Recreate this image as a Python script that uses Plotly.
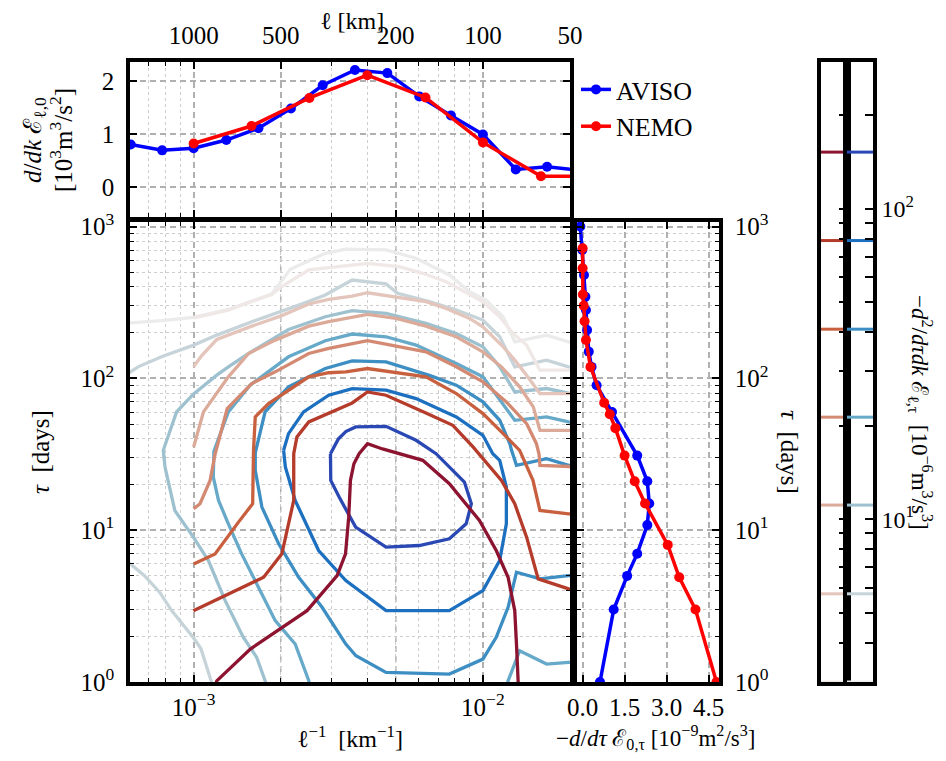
import numpy as np
import plotly.graph_objects as go

# The page body keeps its default 8px margin, so the figure is sized to fill the 946x761 window exactly.
VIEW_W, VIEW_H, BODY = 946, 761, 8
W, H = VIEW_W - 2 * BODY, VIEW_H - 2 * BODY
FONT = "Liberation Serif"

# ---------------- Top panel: spectrum vs scale ----------------
AVISO_L_KM = [1650, 1285, 1000, 771, 597, 461, 358, 277, 214, 166, 129, 100, 77, 60, 46]
AVISO_SPEC = [0.80, 0.69, 0.73, 0.885, 1.11, 1.48, 1.92, 2.21, 2.15, 1.71, 1.35, 0.99, 0.33, 0.38, 0.31]
NEMO_L_KM = [1000, 631, 398, 251, 158, 100, 63, 40]
NEMO_SPEC = [0.82, 1.15, 1.68, 2.11, 1.69, 0.84, 0.20, 0.20]

# ---------------- Right panel: flux vs time scale ----------------
AVISO_TAU = [1000, 700, 480, 345, 282, 208, 150, 119, 90, 60, 31, 21, 15, 10.8, 7, 5, 3, 1]
AVISO_FLUX = [-0.08, -0.01, 0.05, 0.10, 0.12, 0.16, 0.22, 0.32, 0.50, 1.05, 1.95, 2.31, 2.38, 2.31, 1.95, 1.59, 1.11, 0.62]
NEMO_TAU = [720, 531, 357, 301, 238, 179, 119, 69, 58, 47, 31, 21, 15, 8, 4.9, 3, 1]
NEMO_FLUX = [0.0, 0.0, 0.01, 0.04, 0.07, 0.12, 0.28, 0.77, 0.97, 1.17, 1.50, 1.86, 2.23, 3.04, 3.45, 4.03, 4.78]

# ---------------- Contour levels (10^-6 m^3/s^3) ----------------
LEVELS = [2.99, 5.75, 11.1, 21.3, 40.9, 78.9, 152.0]
BLUE_COLORS = ['#ebebec', '#c6d4d9', '#9ec1cf', '#67a9c9', '#3d8ec3', '#1d70c0', '#2a48b3']
RED_COLORS = ['#efe8e6', '#e3c5bc', '#dcaa99', '#d48a72', '#c8603f', '#b53b2b', '#8d1430']

# Contour paths as (log10 l^-1 [km^-1], log10 tau [days])
A0 = [(-3.30, 2.355), (-3.226, 2.366), (-3.111, 2.380), (-3.0, 2.402), (-2.88, 2.454), (-2.73, 2.556),
      (-2.666, 2.718), (-2.545, 2.824), (-2.474, 2.851), (-2.335, 2.846), (-2.231, 2.791), (-2.116, 2.681),
      (-2.046, 2.571), (-1.989, 2.516), (-1.930, 2.406), (-1.89, 2.241), (-1.78, 2.285), (-1.704, 2.241), (-1.65, 2.22)]
A1_UPPER = [(-3.30, 2.0), (-3.226, 2.032), (-3.192, 2.076), (-3.111, 2.142), (-3.0, 2.219), (-2.92, 2.285),
            (-2.799, 2.373), (-2.70, 2.439), (-2.62, 2.494), (-2.545, 2.549), (-2.452, 2.648), (-2.335, 2.622),
            (-2.295, 2.560), (-2.185, 2.505), (-2.092, 2.450), (-2.0, 2.384), (-1.942, 2.274), (-1.89, 2.076),
            (-1.78, 2.12), (-1.704, 2.076), (-1.65, 2.06)]
A1_LOWER = [(-3.26, 0.84), (-3.226, 0.79), (-3.17, 0.70), (-3.117, 0.59), (-3.076, 0.47), (-3.0, 0.29),
            (-2.975, 0.22), (-2.94, 0.0), (-2.93, -0.05)]
A2 = [(-2.745, -0.05), (-2.753, 0.008), (-2.782, 0.162), (-2.828, 0.294), (-2.891, 0.536), (-2.949, 0.80),
      (-3.001, 0.954), (-3.065, 1.13), (-3.099, 1.416), (-3.105, 1.526), (-3.059, 1.779), (-3.001, 1.896),
      (-2.92, 2.021), (-2.88, 2.076), (-2.81, 2.164), (-2.672, 2.322), (-2.545, 2.406), (-2.452, 2.446),
      (-2.335, 2.428), (-2.197, 2.362), (-2.092, 2.296), (-2.0, 2.208), (-1.942, 2.076), (-1.89, 1.911),
      (-1.78, 1.933), (-1.704, 1.90), (-1.65, 1.88)]
A3_MAIN = [(-2.595, -0.05), (-2.602, 0.008), (-2.649, 0.25), (-2.718, 0.404), (-2.776, 0.624), (-2.834, 0.844),
           (-2.88, 1.042), (-2.914, 1.196), (-2.932, 1.35), (-2.93, 1.52), (-2.88, 1.779), (-2.805, 1.955),
           (-2.672, 2.142), (-2.545, 2.248), (-2.452, 2.292), (-2.335, 2.274), (-2.231, 2.219), (-2.092, 2.098),
           (-2.0, 2.010), (-1.942, 1.856), (-1.89, 1.724), (-1.78, 1.746), (-1.704, 1.713), (-1.65, 1.70)]
A3_CORNER = [(-1.92, -0.05), (-1.913, 0.008), (-1.873, 0.206), (-1.78, 0.118), (-1.704, 0.129), (-1.65, 0.13)]
A4 = [(-1.65, 0.70), (-1.704, 0.701), (-1.803, 0.679), (-1.884, 0.723), (-1.913, 0.492), (-1.954, 0.294),
      (-2.0, 0.151), (-2.116, 0.052), (-2.335, 0.063), (-2.439, 0.173), (-2.474, 0.25), (-2.556, 0.492),
      (-2.637, 0.690), (-2.706, 0.910), (-2.764, 1.152), (-2.787, 1.394), (-2.787, 1.51), (-2.753, 1.779),
      (-2.672, 1.944), (-2.545, 2.065), (-2.452, 2.115), (-2.335, 2.109), (-2.185, 2.02), (-2.092, 1.955),
      (-2.0, 1.845), (-1.942, 1.724), (-1.907, 1.570), (-1.901, 1.526), (-1.884, 1.427), (-1.78, 1.471),
      (-1.704, 1.427), (-1.65, 1.42)]
A5 = [(-2.689, 1.526), (-2.672, 1.636), (-2.62, 1.779), (-2.533, 1.889), (-2.452, 1.933), (-2.335, 1.922),
      (-2.231, 1.867), (-2.092, 1.746), (-2.0, 1.625), (-1.966, 1.504), (-1.942, 1.46), (-1.919, 1.284),
      (-1.919, 1.042), (-1.942, 0.80), (-2.0, 0.602), (-2.116, 0.47), (-2.335, 0.47), (-2.474, 0.668),
      (-2.568, 0.866), (-2.649, 1.196), (-2.683, 1.416), (-2.689, 1.526)]
A6 = [(-2.527, 1.504), (-2.50, 1.60), (-2.474, 1.65), (-2.44, 1.68), (-2.335, 1.684), (-2.231, 1.592),
      (-2.162, 1.504), (-2.116, 1.416), (-2.064, 1.317), (-2.04, 1.174), (-2.058, 1.042), (-2.116, 0.943),
      (-2.22, 0.899), (-2.335, 0.888), (-2.44, 1.02), (-2.497, 1.218), (-2.526, 1.328), (-2.527, 1.504)]

N0 = [(-3.0, 2.398), (-2.88, 2.450), (-2.73, 2.553), (-2.70, 2.60), (-2.602, 2.714), (-2.452, 2.747),
      (-2.399, 2.758), (-2.29, 2.736), (-2.208, 2.692), (-2.127, 2.637), (-2.046, 2.549), (-2.0, 2.505),
      (-1.942, 2.406), (-1.896, 2.296), (-1.849, 2.219), (-1.803, 2.054), (-1.704, 2.054), (-1.65, 2.054)]
N1 = [(-3.0, 2.076), (-2.972, 2.15), (-2.92, 2.256), (-2.799, 2.344), (-2.70, 2.41), (-2.602, 2.49),
      (-2.533, 2.52), (-2.452, 2.542), (-2.399, 2.564), (-2.30, 2.534), (-2.197, 2.505), (-2.127, 2.461),
      (-2.046, 2.395), (-2.0, 2.34), (-1.930, 2.208), (-1.89, 2.12), (-1.849, 2.021), (-1.803, 1.90),
      (-1.704, 1.90), (-1.65, 1.90)]
N2 = [(-3.0, 1.548), (-2.966, 1.779), (-2.88, 2.01), (-2.81, 2.164), (-2.718, 2.252), (-2.602, 2.344),
      (-2.533, 2.373), (-2.452, 2.402), (-2.399, 2.422), (-2.30, 2.395), (-2.197, 2.344), (-2.092, 2.274),
      (-2.0, 2.175), (-1.936, 2.076), (-1.873, 1.944), (-1.826, 1.812), (-1.803, 1.658), (-1.704, 1.658),
      (-1.65, 1.658)]
N3 = [(-3.0, 1.141), (-2.978, 1.174), (-2.943, 1.328), (-2.926, 1.50), (-2.884, 1.801), (-2.799, 1.966),
      (-2.718, 2.043), (-2.602, 2.164), (-2.533, 2.197), (-2.452, 2.230), (-2.399, 2.248), (-2.30, 2.213),
      (-2.197, 2.175), (-2.092, 2.076), (-2.0, 1.977), (-1.919, 1.845), (-1.849, 1.702), (-1.815, 1.570),
      (-1.806, 1.50), (-1.803, 1.427), (-1.704, 1.416), (-1.65, 1.416)]
N4 = [(-3.0, 0.778), (-2.926, 0.844), (-2.845, 1.053), (-2.796, 1.174), (-2.793, 1.526), (-2.787, 1.746),
      (-2.741, 1.834), (-2.602, 2.010), (-2.533, 2.037), (-2.474, 2.043), (-2.399, 2.065), (-2.30, 2.037),
      (-2.197, 2.01), (-2.092, 1.90), (-2.0, 1.768), (-1.930, 1.636), (-1.873, 1.526), (-1.827, 1.328),
      (-1.803, 1.130), (-1.704, 1.108), (-1.65, 1.108)]
N5 = [(-3.001, 0.470), (-2.88, 0.580), (-2.758, 0.690), (-2.695, 0.844), (-2.671, 1.042), (-2.654, 1.196),
      (-2.654, 1.504), (-2.643, 1.614), (-2.602, 1.713), (-2.533, 1.768), (-2.452, 1.838), (-2.399, 1.911),
      (-2.335, 1.889), (-2.197, 1.772), (-2.104, 1.691), (-2.035, 1.55), (-1.936, 1.328), (-1.89, 1.174),
      (-1.849, 0.954), (-1.809, 0.679), (-1.704, 0.613), (-1.65, 0.60)]
N6 = [(-2.93, -0.05), (-2.92, 0.008), (-2.804, 0.217), (-2.70, 0.349), (-2.608, 0.47), (-2.504, 0.701),
      (-2.475, 0.844), (-2.464, 1.086), (-2.458, 1.328), (-2.446, 1.438), (-2.428, 1.504), (-2.399, 1.57),
      (-2.347, 1.535), (-2.208, 1.46), (-2.116, 1.306), (-2.012, 1.064), (-1.954, 0.866), (-1.913, 0.690),
      (-1.890, 0.47), (-1.884, 0.25), (-1.878, 0.008), (-1.877, -0.05)]

AVISO_LINES = [(0, A0), (1, A1_UPPER), (1, A1_LOWER), (2, A2), (3, A3_MAIN), (3, A3_CORNER),
               (4, A4), (5, A5), (6, A6)]
NEMO_LINES = [(0, N0), (1, N1), (2, N2), (3, N3), (4, N4), (5, N5), (6, N6)]


def px(x):
    """window pixel x -> paper coordinate"""
    return (x - BODY) / W


def py(y):
    """window pixel y -> paper coordinate"""
    return 1 - (y - BODY) / H


fig = go.Figure()

# contour lines on main panel
for lines, colors in ((AVISO_LINES, BLUE_COLORS), (NEMO_LINES, RED_COLORS)):
    for lev, path in lines:
        arr = np.array(path)
        fig.add_trace(go.Scatter(x=10 ** arr[:, 0], y=10 ** arr[:, 1], mode='lines',
                                 line=dict(color=colors[lev], width=3.3), showlegend=False,
                                 hoverinfo='skip', xaxis='x', yaxis='y'))

# top panel
fig.add_trace(go.Scatter(x=1.0 / np.array(AVISO_L_KM), y=AVISO_SPEC, mode='lines+markers', name='AVISO',
                         line=dict(color='#0000ff', width=3.5), marker=dict(size=10, color='#0000ff'),
                         xaxis='x2', yaxis='y2', legendgroup='a'))
fig.add_trace(go.Scatter(x=1.0 / np.array(NEMO_L_KM), y=NEMO_SPEC, mode='lines+markers', name='NEMO',
                         line=dict(color='#ff0000', width=3.5), marker=dict(size=10, color='#ff0000'),
                         xaxis='x2', yaxis='y2', legendgroup='n'))

# right panel
fig.add_trace(go.Scatter(x=AVISO_FLUX, y=AVISO_TAU, mode='lines+markers', showlegend=False,
                         line=dict(color='#0000ff', width=3.5), marker=dict(size=10, color='#0000ff'),
                         xaxis='x3', yaxis='y3'))
fig.add_trace(go.Scatter(x=NEMO_FLUX, y=NEMO_TAU, mode='lines+markers', showlegend=False,
                         line=dict(color='#ff0000', width=3.5), marker=dict(size=10, color='#ff0000'),
                         xaxis='x3', yaxis='y3'))

# colorbars: level lines
for i, lev in enumerate(LEVELS):
    fig.add_trace(go.Scatter(x=[0, 1], y=[lev, lev], mode='lines', line=dict(color=RED_COLORS[i], width=3),
                             showlegend=False, hoverinfo='skip', xaxis='x4', yaxis='y4'))
    fig.add_trace(go.Scatter(x=[0, 1], y=[lev, lev], mode='lines', line=dict(color=BLUE_COLORS[i], width=3),
                             showlegend=False, hoverinfo='skip', xaxis='x5', yaxis='y5'))

TICKFONT = dict(family=FONT, size=25, color='black')
GRID_COLOR = '#b0b0b0'
MAJ_GRID = dict(showgrid=True, gridcolor=GRID_COLOR, gridwidth=1.5, griddash='6px,4px')
COMMON = dict(ticks='inside', ticklen=7, tickwidth=1.5, tickcolor='black', showline=True,
              linecolor='black', linewidth=3.5, mirror='allticks', zeroline=False, tickfont=TICKFONT,
              automargin=False)


def minor(vals, grid=True, ticklen=4):
    return dict(tickmode='array', tickvals=vals, ticks='inside', ticklen=ticklen, tickwidth=1.2 if grid else 1.5,
                tickcolor='black', showgrid=grid, gridcolor='#cdcdcd', gridwidth=1.3, griddash='dot')


K_LABELLED = [1e-3, 1e-2]
K_DASHED = [2e-3, 5e-3]
K_MINOR = [7e-4, 8e-4, 9e-4, 3e-3, 4e-3, 6e-3, 7e-3, 8e-3, 9e-3]
T_MAJOR = [1, 10, 100, 1000]
T_MINOR = [m * d for d in (1, 10, 100) for m in range(2, 10)]
K_RANGE = [-3.22, -1.699]
T_RANGE = [0, 3.03]
CB_RANGE = [np.log10(LEVELS[0]), 2.472]
CB_MAJOR = [10, 100]
CB_MINOR = [m * d for d in (1, 10, 100) for m in range(2, 10) if 2.9 < m * d < 297]

MAIN_X = [px(130), px(570)]
MAIN_Y = [py(682), py(222)]
CB_Y = [py(682), py(62)]

CB_AX = dict(showgrid=False, showline=True, linecolor='black', linewidth=3.5, mirror=True,
             zeroline=False, automargin=False)

fig.update_layout(
    template='none',
    width=W, height=H, margin=dict(l=0, r=0, t=0, b=0, autoexpand=False),
    plot_bgcolor='white', paper_bgcolor='white',
    font=dict(family=FONT, size=25, color='black'),
    xaxis=dict(domain=MAIN_X, anchor='y', type='log', range=K_RANGE, tickmode='array', tickvals=K_LABELLED,
               ticktext=['10<sup>−3</sup>', '10<sup>−2</sup>'], minor=minor(K_MINOR + K_DASHED),
               ticklabelstandoff=0, **MAJ_GRID, **COMMON),
    yaxis=dict(domain=MAIN_Y, anchor='x', type='log', range=T_RANGE, tickmode='array', tickvals=T_MAJOR,
               ticktext=['10<sup>0</sup>', '10<sup>1</sup>', '10<sup>2</sup>', '10<sup>3</sup>'],
               minor=minor(T_MINOR), ticklabelstandoff=7, **MAJ_GRID, **COMMON),
    xaxis2=dict(domain=MAIN_X, anchor='y2', type='log', range=K_RANGE, side='top', tickmode='array',
                tickvals=[1e-3, 2e-3, 5e-3, 1e-2, 2e-2], ticktext=['1000', '500', '200', '100', '50'],
                minor=minor(K_MINOR), ticklabelstandoff=4, **MAJ_GRID, **COMMON),
    yaxis2=dict(domain=[py(217), py(62)], anchor='x2', range=[-0.57, 2.36], tickmode='array',
                tickvals=[0, 1, 2], ticklabelstandoff=7, **MAJ_GRID, **COMMON),
    xaxis3=dict(domain=[px(577), px(719)], anchor='y3', range=[-0.2, 4.87], tickmode='array',
                tickvals=[0, 1.5, 3.0, 4.5], ticktext=['0.0', '1.5', '3.0', '4.5'], ticklabelstandoff=0,
                **MAJ_GRID, **COMMON),
    yaxis3=dict(domain=MAIN_Y, anchor='x3', type='log', range=T_RANGE, side='right', tickmode='array',
                tickvals=T_MAJOR,
                ticktext=['10<sup>0</sup>', '10<sup>1</sup>', '10<sup>2</sup>', '10<sup>3</sup>'],
                minor=minor(T_MINOR), ticklabelstandoff=7, **MAJ_GRID, **COMMON),
    xaxis4=dict(domain=[px(821), px(847)], anchor='y4', range=[0, 1], showticklabels=False, ticks='', **CB_AX),
    yaxis4=dict(domain=CB_Y, anchor='x4', type='log', range=CB_RANGE, side='right',
                tickmode='array', tickvals=CB_MAJOR, showticklabels=False, ticks='inside', ticklen=8,
                tickwidth=1.5, tickcolor='black', minor=minor(CB_MINOR, grid=False, ticklen=8), **CB_AX),
    xaxis5=dict(domain=[px(847), px(873)], anchor='y5', range=[0, 1], showticklabels=False, ticks='', **CB_AX),
    yaxis5=dict(domain=CB_Y, anchor='x5', type='log', range=CB_RANGE, side='right',
                tickmode='array', tickvals=CB_MAJOR, ticktext=['10<sup>1</sup>', '10<sup>2</sup>'],
                ticks='inside', ticklen=8, tickwidth=1.5, tickcolor='black',
                tickfont=dict(family=FONT, size=24, color='black'),
                minor=minor(CB_MINOR, grid=False, ticklen=8), ticklabelstandoff=0, **CB_AX),
    legend=dict(x=px(576), y=py(66), xanchor='left', yanchor='top', bgcolor='rgba(0,0,0,0)',
                font=dict(family=FONT, size=26), tracegroupgap=0, itemwidth=30),
)

# dashed grid lines at the scale ticks (500 km and 200 km) inside the main panel
for k in K_DASHED:
    fig.add_shape(type='line', xref='x', yref='y domain', x0=k, x1=k, y0=0, y1=1, layer='below',
                  line=dict(color=GRID_COLOR, width=1.5, dash='6px,4px'))

ANN = [
    (352, 21, 'ℓ [km]', 0, 24),
    (350, 737, 'ℓ<sup>−1</sup>  [km<sup>−1</sup>]', 0, 24),
    (655, 737, '−<i>d</i>/<i>dτ</i> ℰ<sub>0,τ</sub> [10<sup>−9</sup>m<sup>2</sup>/s<sup>3</sup>]', 0, 23),
    (40, 452, '<i>τ</i>  [days]', -90, 25),
    (790, 452, '<i>τ</i>  [days]', 90, 25),
    (34, 140, '<i>d</i>/<i>dk</i> ℰ<sub>ℓ,0</sub>', -90, 25),
    (61, 140, '[10<sup>3</sup>m<sup>3</sup>/s<sup>2</sup>]', -90, 25),
    (921, 412, '−<i>d</i><sup>2</sup>/<i>dτdk</i> ℰ<sub>ℓ,τ</sub>  [10<sup>−6</sup>m<sup>3</sup>/s<sup>3</sup>]', 90, 23),
]
for x, y, text, ang, size in ANN:
    fig.add_annotation(x=px(x), y=py(y), xref='paper', yref='paper', text=text, textangle=ang,
                       showarrow=False, xanchor='center', yanchor='middle',
                       font=dict(family=FONT, size=size, color='black'))

fig.write_html("out.html")
